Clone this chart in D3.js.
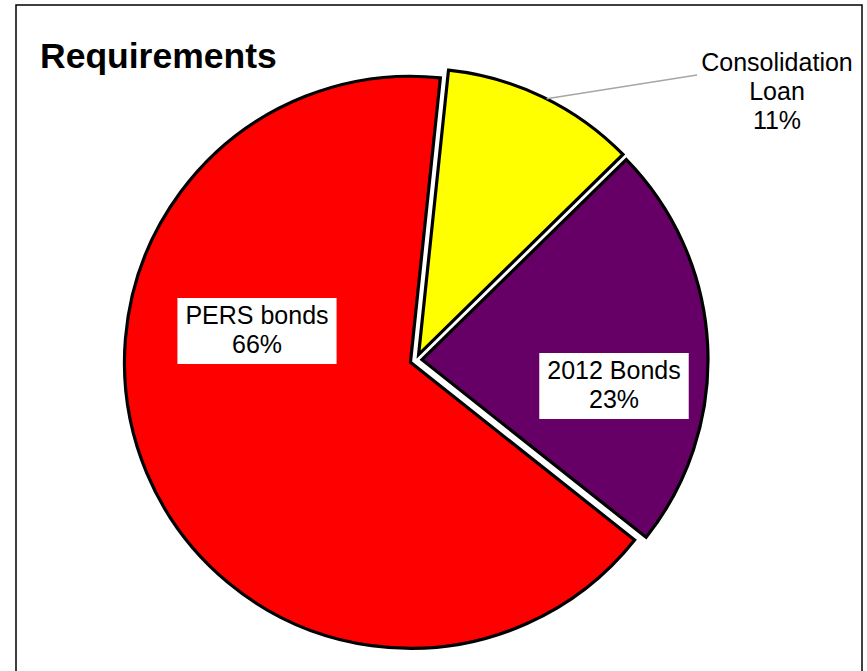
<!DOCTYPE html>
<html>
<head>
<meta charset="utf-8">
<script src="https://cdn.jsdelivr.net/npm/d3@7"></script>
<style>
  body { margin: 0; background: #fff; }
  svg { display: block; font-family: "Liberation Sans", Arial, sans-serif; }
</style>
</head>
<body>
<div id="chart"></div>
<script>
// data
const categories = ['Consolidation Loan', '2012 Bonds', 'PERS bonds'];
const values = [11, 23, 66];
const labelLines = [['Consolidation', 'Loan', '11%'], ['2012 Bonds', '23%'], ['PERS bonds', '66%']];
const sliceColors = ['#ffff00', '#660066', '#ff0000'];

const width = 867;
const height = 671;
const cx = 416;
const cy = 360;
const radius = 286;
const explode = 6;
const startDeg = 6;
const fontSize = 25;
const lineHeight = 29;

// label centres (excel labels were dragged by hand)
const labelCenters = [[777, 92], [614, 386], [257, 331]];

const svg = d3.select('#chart')
  .append('svg')
  .attr('width', width)
  .attr('height', height);

// chart frame
svg.append('rect')
  .attr('x', 16)
  .attr('y', 5)
  .attr('width', 846)
  .attr('height', 720)
  .attr('fill', 'none')
  .attr('stroke', '#000')
  .attr('stroke-width', 1.5);

svg.append('text')
  .attr('x', 40)
  .attr('y', 68)
  .attr('font-size', 35.5)
  .attr('font-weight', 'bold')
  .attr('fill', '#000')
  .text('Requirements');

const pie = d3.pie()
  .sort(null)
  .value(d => d)
  .startAngle(startDeg * Math.PI / 180)
  .endAngle(startDeg * Math.PI / 180 + 2 * Math.PI);

const arcs = pie(values);
const arc = d3.arc().innerRadius(0).outerRadius(radius);

const g = svg.append('g').attr('transform', `translate(${cx},${cy})`);

function shift(d, dist) {
  const mid = (d.startAngle + d.endAngle) / 2;
  return [Math.sin(mid) * dist, -Math.cos(mid) * dist];
}

g.selectAll('path.slice')
  .data(arcs)
  .join('path')
  .attr('class', 'slice')
  .attr('d', arc)
  .attr('transform', d => `translate(${shift(d, explode)})`)
  .attr('fill', (d, i) => sliceColors[i])
  .attr('stroke', '#000')
  .attr('stroke-width', 3.2)
  .attr('stroke-linejoin', 'miter');

// leader line for the small slice
const yellow = arcs[0];
const leadAngle = yellow.startAngle + (yellow.endAngle - yellow.startAngle) * 0.52;
const [sx, sy] = shift(yellow, explode);
svg.append('line')
  .attr('x1', cx + sx + Math.sin(leadAngle) * radius)
  .attr('y1', cy + sy - Math.cos(leadAngle) * radius)
  .attr('x2', 697)
  .attr('y2', 75)
  .attr('stroke', '#a6a6a6')
  .attr('stroke-width', 1.5);

// labels
labelLines.forEach((lines, i) => {
  const [lx, ly] = labelCenters[i];
  const lg = svg.append('g').attr('transform', `translate(${lx},${ly})`);
  const boxed = i > 0;
  const bg = lg.append('rect').attr('fill', boxed ? '#fff' : 'none');
  const t = lg.append('text')
    .attr('text-anchor', 'middle')
    .attr('font-size', fontSize)
    .attr('fill', '#000');
  const top = -(lines.length * lineHeight) / 2;
  lines.forEach((s, j) => {
    t.append('tspan')
      .attr('x', 0)
      .attr('y', top + (j + 1) * lineHeight - 7)
      .text(s);
  });
  if (boxed) {
    const bb = t.node().getBBox();
    bg.attr('x', bb.x - 8)
      .attr('y', top - 4)
      .attr('width', bb.width + 16)
      .attr('height', lines.length * lineHeight + 8);
  }
});
</script>
</body>
</html>
